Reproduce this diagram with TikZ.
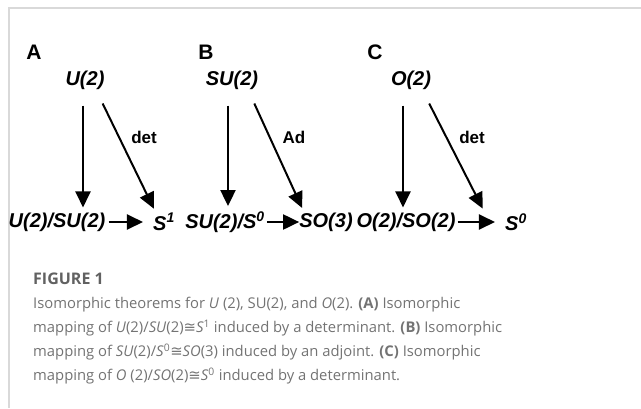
\documentclass[tikz,border=0pt]{standalone}
\usepackage{fontspec}
\setmainfont{Liberation Sans}
\newfontfamily\capfont{Open Sans}
\newfontfamily\symfont{DejaVu Sans}
\usetikzlibrary{arrows.meta}
\definecolor{framegray}{gray}{0.85}
\definecolor{capgray}{gray}{0.45}
\definecolor{capdark}{gray}{0.38}

\begin{document}
\begin{tikzpicture}[x=1pt, y=-1pt,
  panel/.style={font=\fontsize{21}{21}\selectfont\bfseries, inner sep=0pt},
  grp/.style={font=\fontsize{20}{20}\selectfont\bfseries\itshape, inner sep=0pt},
  lbl/.style={font=\fontsize{17}{17}\selectfont\bfseries, inner sep=0pt},
  arr/.style={-{Triangle[length=16pt,width=15pt]}, line width=2pt},
]
  \useasboundingbox (0,0) rectangle (641,408);
  \draw[framegray, line width=1.5pt] (641,8) -- (9,8) -- (9,408);

  \node[panel] (pa) at (34,52) {A};
  \node[panel] (pb) at (206,52) {B};
  \node[panel] (pc) at (375,52) {C};

  \node[grp] (ua) at (85,80) {U(2)};
  \node[grp] (uq) at (57,222) {U(2)/SU(2)};
  \node[grp] (us) at (164,222) {S\textsuperscript{1}};

  \node[grp] (sa) at (232,80) {SU(2)};
  \node[grp] (sq) at (225,222) {SU(2)/S\textsuperscript{0}};
  \node[grp] (ss) at (326,222) {SO(3)};

  \node[grp] (oa) at (411,80) {O(2)};
  \node[grp] (oq) at (406,222) {O(2)/SO(2)};
  \node[grp] (os) at (516,222) {S\textsuperscript{0}};

  \draw[arr, shorten >=5pt] ([xshift=-2pt,yshift=-16pt]ua.south) -- ([xshift=-2pt]ua.south |- uq.north);
  \draw[arr, shorten >=5pt] ([xshift=-2pt,yshift=-14pt]ua.south east) -- ([xshift=3pt]us.north west);
  \draw[arr, shorten <=3pt, shorten >=10pt] (uq.east) -- (us.west);
  \node[lbl] (da) at (144,137) {det};

  \draw[arr, shorten >=5pt] ([xshift=-4pt,yshift=-16pt]sa.south) -- ([xshift=-4pt]sa.south |- sq.north);
  \draw[arr, shorten >=5pt] ([xshift=-4pt,yshift=-14pt]sa.south east) -- ([xshift=5pt]ss.north west);
  \draw[arr, shorten <=2pt] (sq.east) -- (ss.west);
  \node[lbl] (ad) at (294,137) {Ad};

  \draw[arr, shorten >=5pt] ([xshift=-8pt,yshift=-16pt]oa.south) -- ([xshift=-8pt]oa.south |- oq.north);
  \draw[arr, shorten >=5pt] ([xshift=-2pt,yshift=-14pt]oa.south east) -- ([xshift=-20pt]os.north west);
  \draw[arr, shorten <=2pt, shorten >=10pt] (oq.east) -- (os.west);
  \node[lbl] (dc) at (472,137) {det};

  \node[anchor=north west, align=left, inner sep=0pt, text=capgray,
        font=\capfont\fontsize{14.8}{24}\selectfont] (cap) at (33,273)
  {{\color{capdark}\fontsize{16}{24}\selectfont\bfseries FIGURE 1}\\
   Isomorphic theorems for \textit{U} (2), SU(2), and \textit{O}(2). \textbf{(A)} Isomorphic\\
   mapping of \textit{U}(2)/\textit{SU}(2){\symfont ≅}\textit{S}\textsuperscript{1} induced by a determinant. \textbf{(B)} Isomorphic\\
   mapping of \textit{SU}(2)/\textit{S}\textsuperscript{0}{\symfont ≅}\textit{SO}(3) induced by an adjoint. \textbf{(C)} Isomorphic\\
   mapping of \textit{O} (2)/\textit{SO}(2){\symfont ≅}\textit{S}\textsuperscript{0} induced by a determinant.};
\end{tikzpicture}
\end{document}
